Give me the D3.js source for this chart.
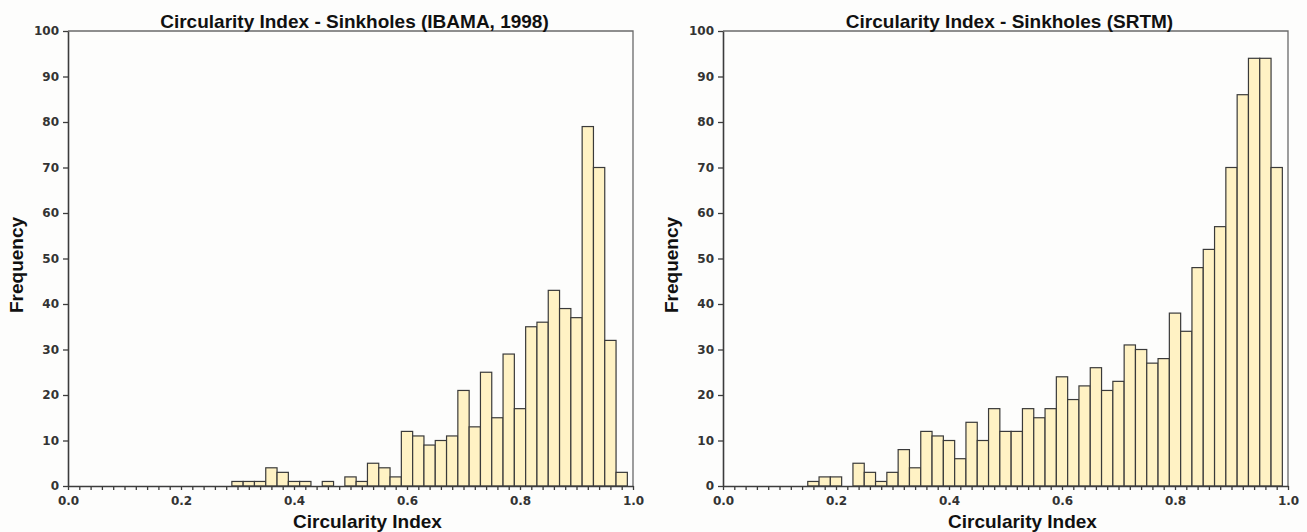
<!DOCTYPE html>
<html>
<head>
<meta charset="utf-8">
<script src="https://cdn.jsdelivr.net/npm/d3@7"></script>
<style>
  body { margin: 0; background: #fdfdfc; }
  svg { display: block; }
</style>
</head>
<body>
<div id="chart"></div>
<script>
// bin centres (width 0.02) and counts
var ibamaCenters = [0.30, 0.32, 0.34, 0.36, 0.38, 0.40, 0.42, 0.44, 0.46, 0.48,
                    0.50, 0.52, 0.54, 0.56, 0.58, 0.60, 0.62, 0.64, 0.66, 0.68,
                    0.70, 0.72, 0.74, 0.76, 0.78, 0.80, 0.82, 0.84, 0.86, 0.88,
                    0.90, 0.92, 0.94, 0.96, 0.98];
var ibamaCounts  = [1, 1, 1, 4, 3, 1, 1, 0, 1, 0,
                    2, 1, 5, 4, 2, 12, 11, 9, 10, 11,
                    21, 13, 25, 15, 29, 17, 35, 36, 43, 39,
                    37, 79, 70, 32, 3];

var srtmCenters = [0.16, 0.18, 0.20, 0.22, 0.24, 0.26, 0.28, 0.30, 0.32, 0.34,
                   0.36, 0.38, 0.40, 0.42, 0.44, 0.46, 0.48, 0.50, 0.52, 0.54,
                   0.56, 0.58, 0.60, 0.62, 0.64, 0.66, 0.68, 0.70, 0.72, 0.74,
                   0.76, 0.78, 0.80, 0.82, 0.84, 0.86, 0.88, 0.90, 0.92, 0.94,
                   0.96, 0.98];
var srtmCounts  = [1, 2, 2, 0, 5, 3, 1, 3, 8, 4,
                   12, 11, 10, 6, 14, 10, 17, 12, 12, 17,
                   15, 17, 24, 19, 22, 26, 21, 23, 31, 30,
                   27, 28, 38, 34, 48, 52, 57, 70, 86, 94,
                   94, 70];

var binWidth = 0.02;
var xMajor = [0, 0.2, 0.4, 0.6, 0.8, 1.0];
var yTicks = [0, 10, 20, 30, 40, 50, 60, 70, 80, 90, 100];

var svg = d3.select("#chart").append("svg")
    .attr("width", 1307)
    .attr("height", 532);

function histogram(left, title, centers, counts) {
  var top = 31, bottom = 486, width = 565;

  var x = d3.scaleLinear().domain([0, 1]).range([0, width]);
  var y = d3.scaleLinear().domain([0, 100]).range([bottom, top]);

  var g = svg.append("g").attr("transform", "translate(" + left + ",0)");

  // top + right frame
  g.append("path")
      .attr("d", "M0," + top + "H" + width + "V" + bottom)
      .attr("fill", "none")
      .attr("stroke", "#6a6a6a")
      .attr("stroke-width", 1.3);

  var data = centers.map(function(c, i) { return {c: c, n: counts[i]}; });

  g.selectAll(".bar")
      .data(data.filter(function(d) { return d.n > 0; }))
      .enter().append("rect")
      .attr("class", "bar")
      .attr("x", function(d) { return x(d.c - binWidth / 2); })
      .attr("y", function(d) { return y(d.n); })
      .attr("width", x(binWidth))
      .attr("height", function(d) { return bottom - y(d.n); })
      .attr("fill", "#fff2c4")
      .attr("stroke", "#3a3a3a")
      .attr("stroke-width", 1.2);

  // x axis, small ticks every 0.02
  var xAxis = g.append("g")
      .attr("transform", "translate(0," + bottom + ")")
      .call(d3.axisBottom(x)
        .tickValues(d3.range(0, 51).map(function(i) { return i / 50; }))
        .tickSize(4)
        .tickSizeOuter(0)
        .tickFormat(function(d) {
          return xMajor.some(function(m) { return Math.abs(m - d) < 1e-9; }) ? d3.format(".1f")(d) : "";
        }));

  var yAxis = g.append("g")
      .call(d3.axisLeft(y).tickValues(yTicks).tickSize(5).tickSizeOuter(0));

  [xAxis, yAxis].forEach(function(a) {
    a.select(".domain").attr("stroke", "#3c3c3c").attr("stroke-width", 1.6);
    a.selectAll(".tick line").attr("stroke", "#3c3c3c").attr("stroke-width", 1.3);
    a.selectAll("text")
        .attr("fill", "#333")
        .style("font-family", "DejaVu Sans")
        .style("font-weight", "bold")
        .style("font-size", "12px");
  });
  xAxis.selectAll("text").attr("dy", "1.0em");
  yAxis.selectAll("text").attr("x", -9);

  g.append("text")
      .attr("x", width / 2 + 4)
      .attr("y", 28)
      .attr("text-anchor", "middle")
      .style("font-family", "Liberation Sans, Arial")
      .style("font-weight", "bold")
      .style("font-size", "19px")
      .attr("fill", "#111")
      .text(title);

  g.append("text")
      .attr("x", width / 2 + 17)
      .attr("y", 528)
      .attr("text-anchor", "middle")
      .style("font-family", "Liberation Sans, Arial")
      .style("font-weight", "bold")
      .style("font-size", "19px")
      .attr("fill", "#111")
      .text("Circularity Index");

  g.append("text")
      .attr("transform", "translate(-45," + 265 + ") rotate(-90)")
      .attr("text-anchor", "middle")
      .style("font-family", "Liberation Sans, Arial")
      .style("font-weight", "bold")
      .style("font-size", "19px")
      .attr("fill", "#111")
      .text("Frequency");
}

histogram(68, "Circularity Index - Sinkholes (IBAMA, 1998)", ibamaCenters, ibamaCounts);
histogram(723, "Circularity Index - Sinkholes (SRTM)", srtmCenters, srtmCounts);
</script>
</body>
</html>
